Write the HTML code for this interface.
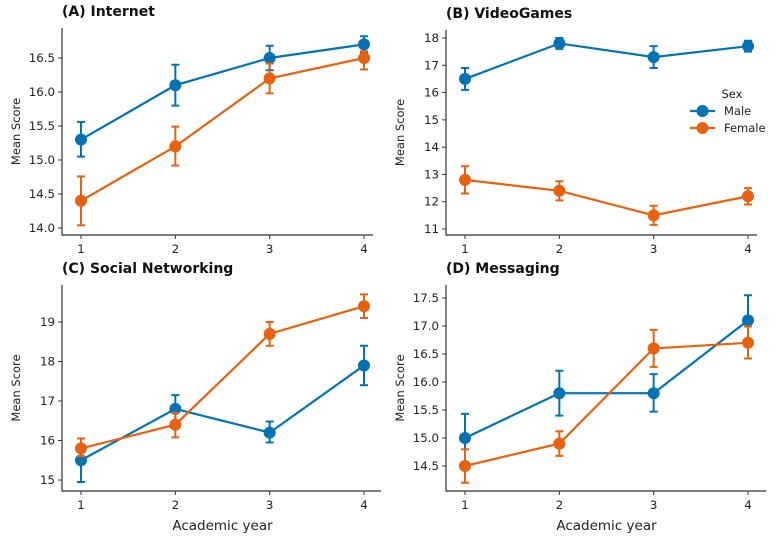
<!DOCTYPE html>
<html><head><meta charset="utf-8"><style>
body{margin:0;background:#fff;overflow:hidden}
svg{display:block;font-family:"DejaVu Sans","Liberation Sans",sans-serif}
</style></head><body>
<svg id="c" width="775" height="542" viewBox="0 0 775 542"></svg>
<script>
const years=[1,2,3,4];
const titles=["(A) Internet","(B) VideoGames","(C) Social Networking","(D) Messaging"];
const maleA=[15.3,16.1,16.5,16.7], maleAlo=[15.05,15.8,16.32,16.58], maleAhi=[15.56,16.4,16.68,16.82];
const femA=[14.4,15.2,16.2,16.5], femAlo=[14.04,14.92,15.98,16.33], femAhi=[14.76,15.49,16.42,16.6];
const maleB=[16.5,17.8,17.3,17.7], maleBlo=[16.1,17.6,16.9,17.5], maleBhi=[16.9,18.0,17.7,17.9];
const femB=[12.8,12.4,11.5,12.2], femBlo=[12.3,12.05,11.15,11.9], femBhi=[13.3,12.75,11.85,12.5];
const maleC=[15.5,16.8,16.2,17.9], maleClo=[14.95,16.45,15.95,17.4], maleChi=[16.05,17.15,16.48,18.4];
const femC=[15.8,16.4,18.7,19.4], femClo=[15.6,16.08,18.4,19.1], femChi=[16.05,16.7,19.0,19.7];
const maleD=[15.0,15.8,15.8,17.1], maleDlo=[14.55,15.4,15.47,16.65], maleDhi=[15.43,16.2,16.14,17.55];
const femD=[14.5,14.9,16.6,16.7], femDlo=[14.2,14.68,16.27,16.42], femDhi=[14.8,15.12,16.93,16.99];
const ticksA=["14.0","14.5","15.0","15.5","16.0","16.5"];
const ticksB=["11","12","13","14","15","16","17","18"];
const ticksC=["15","16","17","18","19"];
const ticksD=["14.5","15.0","15.5","16.0","16.5","17.0","17.5"];
const BLUE="#0173b2", ORANGE="#e8610f";
const svg=document.getElementById('c');
const NS="http://www.w3.org/2000/svg";
function mk(tag,at,txt,parent){const e=document.createElementNS(NS,tag);for(const k in at)e.setAttribute(k,at[k]);if(txt!=null)e.textContent=txt;(parent||svg).appendChild(e);return e;}
const panels=[
 {g:0,sx:62,ay:235,x1:81,x4:364,va:14.0,ya:228,vb:16.5,yb:58,top:28,right:373,ticks:ticksA,m:[maleA,maleAlo,maleAhi],f:[femA,femAlo,femAhi],xl:false},
 {g:1,sx:446,ay:235,x1:465,x4:748,va:11,ya:229,vb:18,yb:38,top:30,right:757,ticks:ticksB,m:[maleB,maleBlo,maleBhi],f:[femB,femBlo,femBhi],xl:false},
 {g:2,sx:62,ay:491,x1:81,x4:364,va:15,ya:480,vb:19,yb:322,top:285,right:381,ticks:ticksC,m:[maleC,maleClo,maleChi],f:[femC,femClo,femChi],xl:true},
 {g:3,sx:446,ay:491,x1:465,x4:748,va:14.5,ya:466,vb:17.5,yb:298,top:285,right:766,ticks:ticksD,m:[maleD,maleDlo,maleDhi],f:[femD,femDlo,femDhi],xl:true}
];
panels.forEach(p=>{
  const g=mk('g',{});
  
  
  const X=v=>p.x1+(v-1)*(p.x4-p.x1)/3;
  const Y=v=>p.ya+(v-p.va)*(p.yb-p.ya)/(p.vb-p.va);
  const t=mk('text',{x:p.sx,y:p.top-12,'font-size':14,'font-weight':'bold',fill:'#111'},titles[p.g],g);
  
  
  const sp=mk('path',{d:`M${p.sx} ${p.top}V${p.ay}H${p.right}`,stroke:'#333',fill:'none','stroke-width':1.2},null,g);
  
  
  p.ticks.forEach(s=>{const v=parseFloat(s),y=Y(v);
    mk('line',{x1:p.sx-4,x2:p.sx,y1:y,y2:y,stroke:'#333'},null,g);
    const tl=mk('text',{x:p.sx-7,y:y+4,'font-size':11.8,'text-anchor':'end',fill:'#222'},s,g);
    
    });
  years.forEach(yr=>{const x=X(yr);
    mk('line',{x1:x,x2:x,y1:p.ay,y2:p.ay+4,stroke:'#333'},null,g);
    const tl=mk('text',{x:x,y:p.ay+18,'font-size':11.8,'text-anchor':'middle',fill:'#222'},yr,g);
    
    });
  const yl=mk('text',{transform:`translate(${p.sx-42},${(p.top+p.ay)/2}) rotate(-90)`,'font-size':11.5,'text-anchor':'middle',fill:'#222'},'Mean Score',g);
  
  
  if(p.xl){const xl=mk('text',{x:(p.x1+p.x4)/2,y:p.ay+39,'font-size':13.5,'text-anchor':'middle',fill:'#222'},'Academic year',g);
    
    }
  [[p.m,BLUE,'male'],[p.f,ORANGE,'female']].forEach(([s,col,nm])=>{
    const [mean,lo,hi]=s;
    const ln=mk('polyline',{points:mean.map((v,i)=>X(years[i])+','+Y(v)).join(' '),stroke:col,fill:'none','stroke-width':2.2},null,g);
    
    
    mean.forEach((v,i)=>{const x=X(years[i]);
      const eb=mk('path',{d:`M${x-4} ${Y(lo[i])}H${x+4}M${x} ${Y(lo[i])}V${Y(hi[i])}M${x-4} ${Y(hi[i])}H${x+4}`,stroke:col,'stroke-width':2,fill:'none'},null,g);
      
      
      const c=mk('circle',{cx:x,cy:Y(v),r:6,fill:col},null,g);
      
      });
  });
});
const lg=mk('g',{});


mk('text',{x:732,y:98,'font-size':11.5,'text-anchor':'middle',fill:'#222'},'Sex',lg);
[['Male',BLUE,111],['Female',ORANGE,128]].forEach(([n,col,y])=>{
  const e=mk('g',{},null,lg);
  
  
  mk('line',{x1:690,x2:715,y1:y,y2:y,stroke:col,'stroke-width':2.2},null,e);
  mk('line',{x1:702.5,x2:702.5,y1:y-5,y2:y+5,stroke:col,'stroke-width':2},null,e);
  mk('circle',{cx:702.5,cy:y,r:6,fill:col},null,e);
  mk('text',{x:724,y:y+4,'font-size':11.5,fill:'#222'},n,e);
});
</script>
</body></html>
